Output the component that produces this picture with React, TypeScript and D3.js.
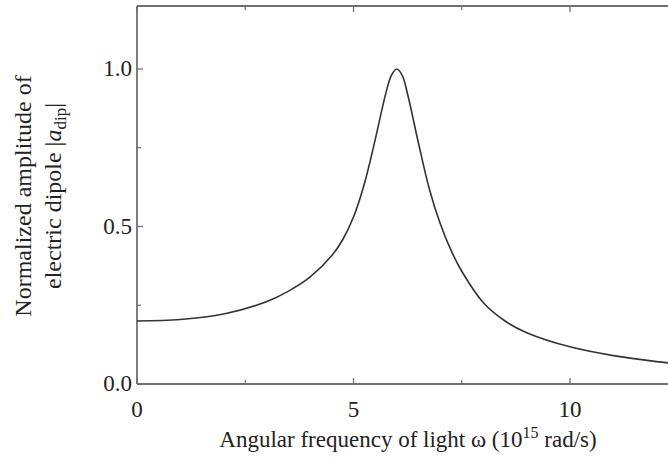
import React from "react";
import * as d3 from "d3";

const omega = [0, 1, 2, 3, 3.5, 4, 4.5, 4.75, 5, 5.25, 5.5, 5.75, 5.875, 6, 6.125, 6.25, 6.5, 6.75, 7, 7.25, 7.5, 8, 8.5, 9, 10, 11, 12, 12.5];
const amplitude = [0.2, 0.205, 0.222, 0.262, 0.295, 0.34, 0.408, 0.458, 0.53, 0.635, 0.775, 0.925, 0.98, 1.0, 0.98, 0.92, 0.765, 0.62, 0.51, 0.425, 0.358, 0.258, 0.2, 0.163, 0.118, 0.09, 0.071, 0.064];
const xMajorTicks = [0, 5, 10];
const xMinorTicks = [2.5, 7.5, 12.5];
const yMajorTicks = [0, 0.5, 1.0];
const yMinorTicks = [0.25, 0.75];

const W = 668;
const H = 461;
const left = 137;
const bottom = 384;
const top = 6;

export default function App() {
  const x = d3.scaleLinear().domain([0, 10]).range([left, 570]);
  const y = d3.scaleLinear().domain([0, 1.2]).range([bottom, top]);
  const pts = omega.map((w, i) => [w, amplitude[i]] as [number, number]);
  const line = d3
    .line<[number, number]>()
    .x((d) => x(d[0]))
    .y((d) => y(d[1]))
    .curve(d3.curveCatmullRom.alpha(0.5));
  const axisColor = "#707070";
  const font = "'Liberation Serif', 'Times New Roman', serif";
  const tickFs = 23;
  return (
    <svg width={W} height={H} style={{ position: "absolute", left: 0, top: 0, background: "#fff" }} fontFamily={font}>
      <defs>
        <clipPath id="plot">
          <rect x={left} y={top} width={W - left} height={bottom - top} />
        </clipPath>
      </defs>
      <line x1={left} x2={W} y1={bottom} y2={bottom} stroke={axisColor} strokeWidth={1.8} />
      <line x1={left} x2={W} y1={top} y2={top} stroke={axisColor} strokeWidth={1.8} />
      <line x1={left} x2={left} y1={top} y2={bottom} stroke={axisColor} strokeWidth={1.8} />
      {xMajorTicks.map((t) => (
        <g key={"xM" + t}>
          <line x1={x(t)} x2={x(t)} y1={bottom} y2={bottom - 6} stroke={axisColor} strokeWidth={1.3} />
          <line x1={x(t)} x2={x(t)} y1={top} y2={top + 6} stroke={axisColor} strokeWidth={1.3} />
          <text x={x(t)} y={bottom + 33} fontSize={tickFs} textAnchor="middle" fill="#222">
            {t}
          </text>
        </g>
      ))}
      {xMinorTicks.map((t) => (
        <g key={"xm" + t}>
          <line x1={x(t)} x2={x(t)} y1={bottom} y2={bottom - 4} stroke={axisColor} strokeWidth={1.2} />
          <line x1={x(t)} x2={x(t)} y1={top} y2={top + 4} stroke={axisColor} strokeWidth={1.2} />
        </g>
      ))}
      {yMajorTicks.map((t) => (
        <g key={"yM" + t}>
          <line x1={left} x2={left + 6} y1={y(t)} y2={y(t)} stroke={axisColor} strokeWidth={1.3} />
          <text x={left - 5} y={y(t) + 7} fontSize={tickFs} textAnchor="end" fill="#222">
            {t.toFixed(1)}
          </text>
        </g>
      ))}
      {yMinorTicks.map((t) => (
        <line key={"ym" + t} x1={left} x2={left + 4} y1={y(t)} y2={y(t)} stroke={axisColor} strokeWidth={1.2} />
      ))}
      <path d={line(pts) || ""} fill="none" stroke="#333" strokeWidth={1.6} clipPath="url(#plot)" />
      <text x={408} y={447} fontSize={23} textAnchor="middle" fill="#222">
        Angular frequency of light ω (10
        <tspan fontSize={16} dy={-9}>15</tspan>
        <tspan dy={9}> rad/s)</tspan>
      </text>
      <g transform="translate(31,196) rotate(-90)">
        <text x={0} y={0} fontSize={24} textAnchor="middle" fill="#222">
          Normalized amplitude of
        </text>
        <text x={0} y={30} fontSize={24} textAnchor="middle" fill="#222">
          electric dipole |
          <tspan fontStyle="italic">a</tspan>
          <tspan fontSize={17} dy={5}>dip</tspan>
          <tspan dy={-5}>|</tspan>
        </text>
      </g>
    </svg>
  );
}
